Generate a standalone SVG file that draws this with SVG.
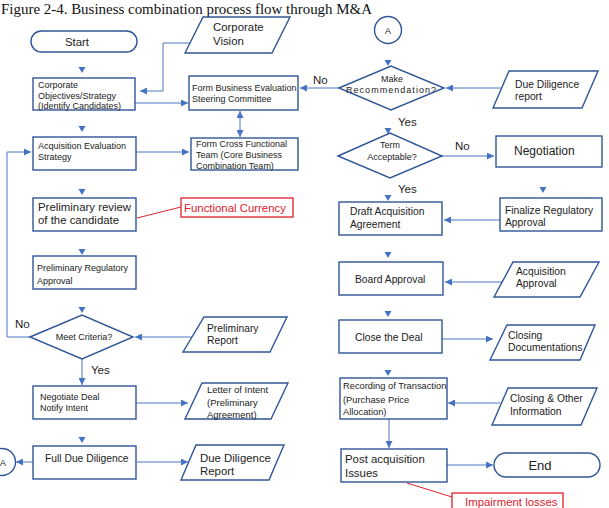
<svg xmlns="http://www.w3.org/2000/svg" xmlns:xlink="http://www.w3.org/1999/xlink" width="609" height="508" viewBox="0 0 609 508">
<defs>
<style>
.bx{fill:#fff;stroke:#2F5597;stroke-width:1.4}
.rd{fill:#fff;stroke:#E0202A;stroke-width:1.3}
.cn{fill:none;stroke:#4A76C4;stroke-width:1}
.rl{fill:none;stroke:#E0202A;stroke-width:1}
.tr{fill:#4472C4}
text{font-family:"Liberation Sans",Arial,sans-serif;fill:#222}
.s{font-size:9px}
.m{font-size:10.3px}
.l{font-size:11.4px}
.lb{font-size:11.5px}
.red{fill:#E0202A}
.c{text-anchor:middle}
</style>
<marker id="ah" viewBox="0 0 10 10" refX="10" refY="5" markerWidth="7" markerHeight="7" markerUnits="userSpaceOnUse" orient="auto-start-reverse">
<path d="M0,0 L10,5 L0,10 Z" fill="#4472C4"/>
</marker>
<path id="tri" d="M-3.5,-3 L3.5,-3 L0,3 Z"/>
</defs>
<rect width="609" height="508" fill="#fff"/>
<text x="1" y="14" style="font-family:'Liberation Serif',serif;font-size:15px;fill:#111" textLength="371" lengthAdjust="spacingAndGlyphs">Figure 2-4. Business combination process flow through M&amp;A</text>

<g id="connectors">
<path class="cn" d="M190,43 H163 V91 H140" marker-end="url(#ah)"/>
<path class="cn" d="M135,103 H188" marker-end="url(#ah)"/>
<path class="cn" d="M339,88 H300" marker-end="url(#ah)"/>
<path class="cn" d="M240,137 V111" marker-start="url(#ah)" marker-end="url(#ah)"/>
<path class="cn" d="M136,152 H189" marker-end="url(#ah)"/>
<path class="cn" d="M30,337 H7 V152 H31" marker-end="url(#ah)"/>
<path class="rl" d="M137,218 L181,207"/>
<path class="cn" d="M192,337 H135" marker-end="url(#ah)"/>
<path class="cn" d="M82,359 V385" marker-end="url(#ah)"/>
<path class="cn" d="M136,403 H188" marker-end="url(#ah)"/>
<path class="cn" d="M33,462 H16" marker-end="url(#ah)"/>
<path class="cn" d="M137,462 H188" marker-end="url(#ah)"/>
<path class="cn" d="M503,88 H446" marker-end="url(#ah)"/>
<path class="cn" d="M442,156 H494" marker-end="url(#ah)"/>
<path class="cn" d="M500,220 H444" marker-end="url(#ah)"/>
<path class="cn" d="M503,282 H445" marker-end="url(#ah)"/>
<path class="cn" d="M442,339 H493" marker-end="url(#ah)"/>
<path class="cn" d="M500,403 H448" marker-end="url(#ah)"/>
<path class="cn" d="M389,419 V448" marker-end="url(#ah)"/>
<path class="cn" d="M447,465 H493" marker-end="url(#ah)"/>
<path class="rl" d="M407,483 L452,497"/>
<use href="#tri" class="tr" x="82" y="70"/>
<use href="#tri" class="tr" x="82" y="129"/>
<use href="#tri" class="tr" x="82" y="192"/>
<use href="#tri" class="tr" x="82" y="252"/>
<use href="#tri" class="tr" x="82" y="310"/>
<use href="#tri" class="tr" x="82" y="440"/>
<use href="#tri" class="tr" x="388" y="63"/>
<use href="#tri" class="tr" x="388" y="131"/>
<use href="#tri" class="tr" x="388" y="198"/>
<use href="#tri" class="tr" x="543" y="190"/>
<use href="#tri" class="tr" x="388" y="255"/>
<use href="#tri" class="tr" x="388" y="314"/>
<use href="#tri" class="tr" x="388" y="373"/>
<text class="lb" x="313" y="84">No</text>
<text class="lb" x="15" y="328">No</text>
<text class="lb" x="91" y="374">Yes</text>
<text class="lb" x="398" y="126">Yes</text>
<text class="lb" x="455" y="150">No</text>
<text class="lb" x="398" y="193">Yes</text>
</g>

<g id="start"><rect class="bx" x="31" y="31" width="106" height="21" rx="10.5"/><text class="l c" x="77" y="46">Start</text></g>
<g id="vision"><polygon class="bx" points="203,17 290,17 272,53 185,53"/><text class="l" x="213" y="31">Corporate</text><text class="l" x="213" y="45">Vision</text></g>
<g id="objectives"><rect class="bx" x="33" y="78" width="102" height="32"/><text class="s" x="38" y="87.5">Corporate</text><text class="s" x="38" y="98.5">Objectives/Strategy</text><text class="s" x="38" y="108.5">(Identify Candidates)</text></g>
<g id="steering"><rect class="bx" x="189" y="76" width="109" height="34"/><text class="s" x="192" y="91">Form Business Evaluation</text><text class="s" x="192" y="102">Steering Committee</text></g>
<g id="acq-eval"><rect class="bx" x="33" y="137" width="103" height="33"/><text class="s" x="38" y="149">Acquisition Evaluation</text><text class="s" x="38" y="159.5">Strategy</text></g>
<g id="cross-team"><rect class="bx" x="191" y="138" width="107" height="32"/><text class="s" x="196" y="147">Form Cross Functional</text><text class="s" x="196" y="158">Team (Core Business</text><text class="s" x="196" y="168.5">Combination Team)</text></g>
<g id="prelim-review"><rect class="bx" x="33" y="198" width="103" height="33"/><text class="l" x="38" y="211">Preliminary review</text><text class="l" x="38" y="224">of the candidate</text></g>
<g id="functional-currency"><rect class="rd" x="181" y="198" width="112" height="19"/><text class="l red" x="184" y="211.5">Functional Currency</text></g>
<g id="prelim-regulatory"><rect class="bx" x="33" y="256" width="103" height="33"/><text class="s" x="37" y="271">Preliminary Regulatory</text><text class="s" x="37" y="284">Approval</text></g>
<g id="meet-criteria"><polygon class="bx" points="30,337 82,315 133,337 82,359"/><text class="s c" x="84" y="339.5">Meet Criteria?</text></g>
<g id="prelim-report"><polygon class="bx" points="204,317 287,317 270,352 183,352"/><text class="m" x="207" y="332">Preliminary</text><text class="m" x="207" y="344">Report</text></g>
<g id="negotiate"><rect class="bx" x="33" y="386" width="103" height="33"/><text class="s" x="40" y="400">Negotiate Deal</text><text class="s" x="40" y="411">Notify Intent</text></g>
<g id="letter-intent"><polygon class="bx" points="202,383 288,383 271,419 185,419"/><text class="s" x="207" y="393" style="font-size:9.5px">Letter of Intent</text><text class="s" x="207" y="406" style="font-size:9.5px">(Preliminary</text><text class="s" x="207" y="417.5" style="font-size:9.5px">Agreement)</text></g>
<g id="full-dd"><rect class="bx" x="33" y="446" width="103" height="33"/><text class="m" x="45" y="462">Full Due Diligence</text></g>
<g id="connector-a-left"><circle class="bx" cx="2" cy="462" r="13.5"/><text class="s c" x="3" y="465.5">A</text></g>
<g id="dd-report"><polygon class="bx" points="196,445 284,445 269,480 181,480"/><text class="l" x="200" y="462">Due Diligence</text><text class="l" x="200" y="475">Report</text></g>

<g id="connector-a-right"><circle class="bx" cx="388" cy="30" r="13.5"/><text class="s c" x="388" y="33.5">A</text></g>
<g id="make-recommendation"><polygon class="bx" points="339,88 391,66 444,88 391,110"/><text class="s c" x="392" y="82">Make</text><text class="s c" x="391" y="92.5" textLength="90">Recommendation?</text></g>
<g id="dd-report-in"><polygon class="bx" points="509,71 598,71 582,108 493,108"/><text class="m" x="515" y="88">Due Diligence</text><text class="m" x="515" y="100">report</text></g>
<g id="term-acceptable"><polygon class="bx" points="338,156 390,133 442,156 390,178"/><text class="s c" x="390" y="147.5">Term</text><text class="s c" x="392" y="160">Acceptable?</text></g>
<g id="negotiation"><rect class="bx" x="496" y="136" width="106" height="31"/><text x="514" y="155" style="font-size:12px">Negotiation</text></g>
<g id="draft-agreement"><rect class="bx" x="339" y="202" width="103" height="33"/><text class="m" x="350" y="215">Draft Acquisition</text><text class="m" x="350" y="227.5">Agreement</text></g>
<g id="finalize-regulatory"><rect class="bx" x="500" y="198" width="102" height="33"/><text class="m" x="505" y="214">Finalize Regulatory</text><text class="m" x="505" y="226">Approval</text></g>
<g id="board-approval"><rect class="bx" x="339" y="262" width="104" height="33"/><text class="m" x="355" y="283">Board Approval</text></g>
<g id="acq-approval"><polygon class="bx" points="513,262 599,262 580,297 494,297"/><text class="m" x="516" y="275">Acquisition</text><text class="m" x="516" y="287">Approval</text></g>
<g id="close-deal"><rect class="bx" x="339" y="320" width="103" height="33"/><text class="m" x="355" y="341">Close the Deal</text></g>
<g id="closing-docs"><polygon class="bx" points="507,325 595,325 580,360 490,360"/><text class="m" x="508" y="338.5">Closing</text><text class="m" x="508" y="351">Documentations</text></g>
<g id="recording"><rect class="bx" x="340" y="378" width="107" height="41"/><text class="s" x="343" y="389" style="font-size:9.3px">Recording of Transaction</text><text class="s" x="343" y="403" style="font-size:9.3px">(Purchase Price</text><text class="s" x="343" y="415" style="font-size:9.3px">Allocation)</text></g>
<g id="closing-other"><polygon class="bx" points="508,388 597,388 581,425 492,425"/><text class="m" x="510" y="401.5">Closing &amp; Other</text><text class="m" x="510" y="415">Information</text></g>
<g id="post-acquisition"><rect class="bx" x="341" y="449" width="106" height="33"/><text class="l" x="345" y="463">Post acquisition</text><text class="l" x="345" y="477">Issues</text></g>
<g id="end"><rect class="bx" x="494" y="453" width="106" height="24" rx="12"/><text class="c" x="540" y="470" style="font-size:13px">End</text></g>
<g id="impairment"><rect class="rd" x="452" y="493" width="111" height="22"/><text class="l red" x="465" y="505.5">Impairment losses</text></g>
</svg>
